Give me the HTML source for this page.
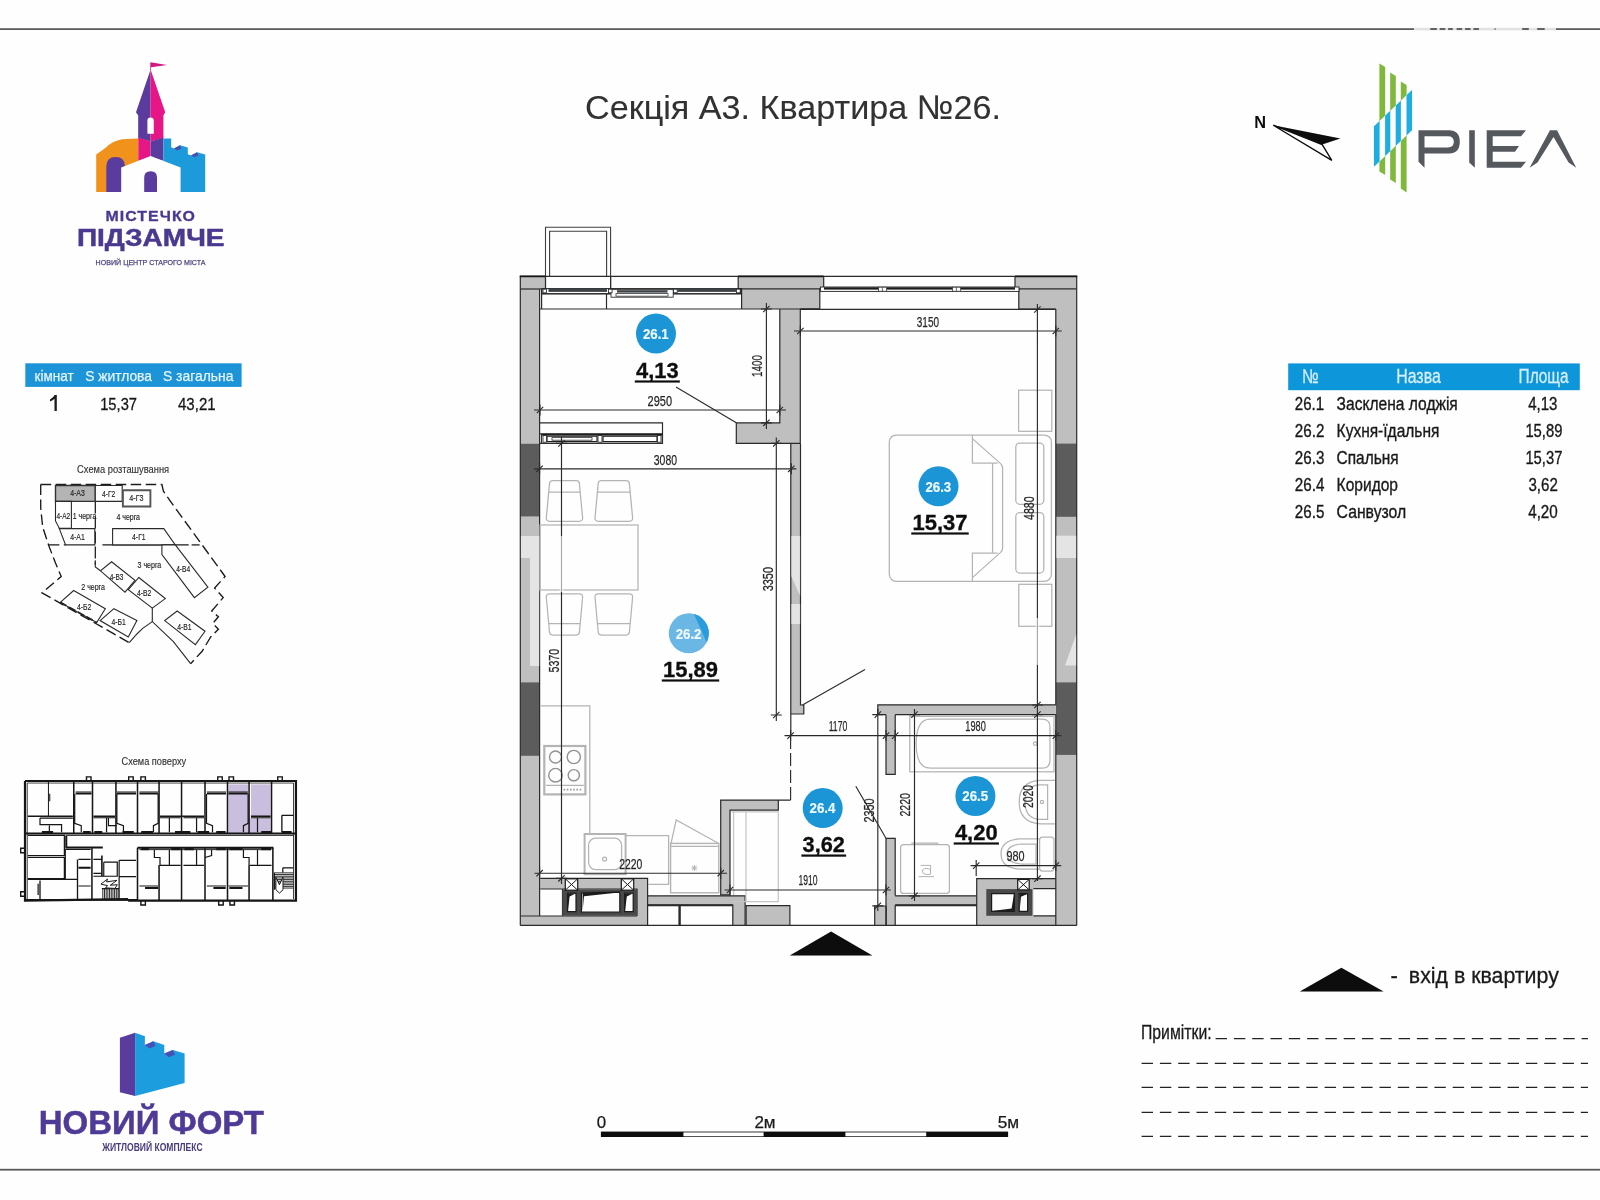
<!DOCTYPE html>
<html lang="uk">
<head>
<meta charset="utf-8">
<title>Секція А3. Квартира №26.</title>
<style>
html,body{margin:0;padding:0;background:#fff;}
body{width:1600px;height:1200px;overflow:hidden;font-family:"Liberation Sans",sans-serif;}
svg{display:block;position:absolute;left:0;top:0;}
text{font-family:"Liberation Sans",sans-serif;}
.b{font-weight:bold;}
.dim{fill:#262626;stroke:#262626;stroke-width:0.25px;font-size:15px;}
.dl{stroke:#2c2c2c;stroke-width:1.15;fill:none;}
.wall{fill:#bfbfbf;}
.dark{fill:#5c5c5c;}
.wl{stroke:#2a2a2a;stroke-width:1.2;fill:none;}
.furn{stroke:#b4b4b4;stroke-width:1.25;fill:none;}
.area{font-weight:bold;font-size:22.4px;fill:#0c0c0c;stroke:#0c0c0c;stroke-width:0.3px;}
.cn{font-weight:bold;font-size:15px;fill:#eef8ff;stroke:#eef8ff;stroke-width:0.2px;}
</style>
</head>
<body>
<svg width="1600" height="1200" viewBox="0 0 1600 1200">
<defs>
<filter id="soft" filterUnits="userSpaceOnUse" x="0" y="0" width="1600" height="1200"><feGaussianBlur stdDeviation="0.42"/></filter>
</defs>
<rect x="0" y="0" width="1600" height="1200" fill="#fefefe"/>

<g id="all" filter="url(#soft)">
<!-- PAGE FRAME LINES -->
<g id="frame">
<rect x="0" y="28.3" width="1600" height="1.6" fill="#4a4a4a"/>
<rect x="1414" y="27.8" width="142" height="2.6" fill="#e2e2e2"/>
<path d="M1430.3 29.1 H1436.9 M1439.7 29.1 H1445.3 M1448.1 29.1 H1452.8 M1456.6 29.1 H1462.2 M1465 29.1 H1470.6 M1473.4 29.1 H1479 M1494.6 29.1 H1495.6 M1522.2 29.1 H1528.8 M1537.2 29.1 H1544.7" stroke="#3a3a3a" stroke-width="1.5" fill="none"/>
<rect x="0" y="1168.8" width="1600" height="1.8" fill="#5a5a5a"/>
</g>

<!-- TITLE -->
<g id="title">
<text x="585" y="119" font-size="34" fill="#303030" stroke="#303030" stroke-width="0.1" textLength="416" lengthAdjust="spacingAndGlyphs">Секція А3. Квартира №26.</text>
</g>

<!-- LOGO: Містечко Підзамче -->
<g id="logo1">
<!-- flag -->
<path d="M150.3 62.2 L167 65 L151 67.2 L151 70 L150.3 70 Z" fill="#d4147f"/>
<!-- spire -->
<path d="M150.6 69.5 L136 112.3 L138.2 115.5 L138.2 138 L150.6 141.5 Z" fill="#5a3a9e"/>
<path d="M150.6 69.5 L165.2 112.3 L163.4 115.5 L163.4 138 L150.6 141.5 Z" fill="#e61587"/>
<!-- window -->
<path d="M147.4 133.8 V121 Q147.4 117.6 150.6 117.6 Q153.8 117.6 153.8 121 V133.8 Z" fill="#fff"/>
<!-- under tower -->
<path d="M138.2 137.5 L150.6 141.5 L150.6 157 L138.2 161 Z" fill="#e61587"/>
<path d="M163.4 137.5 L150.6 141.5 L150.6 157 L163.4 161 Z" fill="#5a3a9e"/>
<!-- orange -->
<path d="M138.2 138.4 L122 139.2 Q112 141 106 147.5 L96.2 154.6 L96.2 192 L138.2 192 Z" fill="#f0921e"/>
<!-- purple arch -->
<path d="M106.3 192 V166.5 Q106.3 157 115.7 157 Q125 157 125 166.5 V192 Z" fill="#5a3a9e"/>
<!-- blue battlements -->
<path d="M163.4 138.4 L171.2 138.4 L171.2 147.3 L174 148.5 L180 145.3 L187.8 147.5 L187.8 154.2 L191 155.4 L197 152.2 L205.2 154.6 L205.2 192 L163.4 192 Z" fill="#1e9ad9"/>
<path d="M174 148.5 L180 145.3 L181.5 148.6 L177.5 150.4 Z" fill="#4a4fb0"/>
<path d="M191 155.4 L197 152.2 L198.5 155.4 L194.5 157.3 Z" fill="#4a4fb0"/>
<!-- white house -->
<path d="M150.6 156 L180.6 167.5 L180.6 192 L121.2 192 L121.2 167.5 Z" fill="#fefefe"/>
<!-- door -->
<path d="M144.2 192 V177.5 Q144.2 171.2 150.6 171.2 Q157 171.2 157 177.5 V192 Z" fill="#5a3a9e"/>
<text x="105.6" y="220.6" class="b" font-size="14" fill="#4b3990" stroke="#4b3990" stroke-width="0.3" letter-spacing="0.9" textLength="90.4" lengthAdjust="spacingAndGlyphs">МІСТЕЧКО</text>
<text x="76.9" y="246.4" class="b" font-size="23.6" fill="#4b3990" stroke="#4b3990" stroke-width="0.5" textLength="147.6" lengthAdjust="spacingAndGlyphs">ПІДЗАМЧЕ</text>
<text x="95.6" y="265.2" font-size="8" fill="#4b4680" stroke="#4b4680" stroke-width="0.25" textLength="110" lengthAdjust="spacingAndGlyphs">НОВИЙ ЦЕНТР СТАРОГО МІСТА</text>
</g>

<!-- COMPASS -->
<g id="compass">
<text x="1254.3" y="128.4" class="b" font-size="16.5" fill="#111" textLength="11.8" lengthAdjust="spacingAndGlyphs">N</text>
<path d="M1273.3 125.2 L1340.4 138.4 L1322.2 144.6 Z" fill="#0a0a0a"/>
<path d="M1273.3 125.2 L1322.2 144.6 L1331.8 160.4 Z" fill="#fff" stroke="#0a0a0a" stroke-width="1.3" stroke-linejoin="miter"/>
</g>

<!-- RIEL LOGO -->
<g id="riel">
<path d="M1379.4 63.4 L1385.2 67 L1385.2 175 L1379.4 171.4 Z" fill="#80b83a"/>
<path d="M1390.2 72.4 L1395.8 76 L1395.8 183 L1390.2 179.4 Z" fill="#80b83a"/>
<path d="M1400.8 81.4 L1406.6 85 L1406.6 192.4 L1400.8 188.6 Z" fill="#80b83a"/>
<path d="M1373.8 126.6 L1412.2 89.8 L1412.2 130 L1373.8 167 Z" fill="#fefefe"/>
<clipPath id="band"><path d="M1373.8 126.6 L1412.2 89.8 L1412.2 130 L1373.8 167 Z"/></clipPath>
<g clip-path="url(#band)" fill="#1eaee0">
<rect x="1373.8" y="80" width="5.8" height="100"/>
<rect x="1385.1" y="80" width="5.2" height="100"/>
<rect x="1395.7" y="80" width="5.2" height="100"/>
<rect x="1406.5" y="80" width="5.8" height="100"/>
</g>
<g fill="#54595d">
<!-- P -->
<path d="M1418.5 130.2 H1449 Q1459.8 130.2 1459.8 141.8 Q1459.8 153.5 1449 153.5 H1424.5 V167.8 L1418.5 161.8 Z M1424.5 136.2 V147.5 H1448 Q1453.8 147.5 1453.8 141.8 Q1453.8 136.2 1448 136.2 Z" fill-rule="evenodd"/>
<!-- I -->
<path d="M1469.2 130.2 H1474.8 V167.8 L1469.2 162.5 Z"/>
<!-- E -->
<path d="M1486.7 130.2 H1526 L1521 136.2 H1492.7 V146 H1519 L1515 151.8 H1492.7 V161.8 H1526 L1521 167.8 H1486.7 Z"/>
<!-- Lambda -->
<path d="M1550 130.2 H1557 L1576.2 167.8 L1568.6 162.4 L1553.5 137 L1537.5 162.4 L1529.6 167.8 Z"/>
</g>
</g>

<!-- LEFT TABLE -->
<g id="lefttable">
<rect x="25.3" y="363.3" width="216.3" height="23.6" fill="#1a94d7"/>
<g fill="#e4f4fd" stroke="#e4f4fd" stroke-width="0.25" font-size="14.4">
<text x="34.6" y="380.6" textLength="39" lengthAdjust="spacingAndGlyphs">кімнат</text>
<text x="85.2" y="380.6" textLength="66.8" lengthAdjust="spacingAndGlyphs">S житлова</text>
<text x="163" y="380.6" textLength="70.4" lengthAdjust="spacingAndGlyphs">S загальна</text>
</g>
<g fill="#1a1a1a" stroke="#1a1a1a" stroke-width="0.3">
<path stroke="none" d="M54.7 395.1 H56.8 V410.9 H54.5 V398.7 Q52.8 400.4 50 401.5 V399.4 Q53.4 397.8 54.7 395.1 Z"/>
<text x="100.2" y="409.5" font-size="17" textLength="36.8" lengthAdjust="spacingAndGlyphs">15,37</text>
<text x="178" y="409.5" font-size="17" textLength="37.6" lengthAdjust="spacingAndGlyphs">43,21</text>
</g>
</g>

<!--SP0-->
<!-- SITE PLAN -->
<g id="siteplan">
<text x="77.1" y="472.6" font-size="11.2" fill="#333" stroke="#333" stroke-width="0.15" textLength="92" lengthAdjust="spacingAndGlyphs">Схема розташування</text>
<path d="M40.7 484.5 L161.9 484.5 L163.4 491.2 L171.4 502.7 L225.1 576.5 L214.6 588 L223.2 597.6 L211.7 611 L218.4 616.8 L212.7 623.5 L218.4 629.2 L210.7 636.9 L202.1 651.3 L190.6 663.7" stroke="#1a1a1a" stroke-width="1.35" fill="none" stroke-dasharray="10.5 4.5"/>
<path d="M40.7 484.5 L40.7 507.5 L42.6 526.7 L48.8 545.8 L55.5 563.1 L61.2 576.5 L42 592.8 L129.3 642.7" stroke="#1a1a1a" stroke-width="1.35" fill="none" stroke-dasharray="10.5 4.5"/>
<path d="M48.8 544.9 L65.6 544.9" stroke="#1a1a1a" stroke-width="1.25" fill="none" stroke-dasharray="10.5 4.5"/>
<path d="M102.4 544.9 L188.7 544.9" stroke="#1a1a1a" stroke-width="1.2" fill="none"/>
<path d="M191.6 544.9 L202.1 544.9" stroke="#1a1a1a" stroke-width="1.25" fill="none" stroke-dasharray="8 4"/>
<path d="M95.3 501.4 L95.3 565" stroke="#1a1a1a" stroke-width="1.25" fill="none" stroke-dasharray="12 3"/>
<path d="M55.5 485.5 L95.3 485.5 L95.3 501.4 L55.5 501.4 Z" stroke="#333" stroke-width="1.4" fill="#b4b4b4"/>
<path d="M95.3 485.5 L122.2 485.5 L122.2 501.4 L95.3 501.4 Z" stroke="#2a2a2a" stroke-width="1.1" fill="#fefefe"/>
<path d="M122.9 490.3 L150.4 490.3 L150.4 506.5 L122.9 506.5 Z" stroke="#555" stroke-width="1.9" fill="#fefefe"/>
<path d="M55.5 501.4 L71.4 501.4 L71.4 528.2 L59.3 528.2 L55.5 520.9 Z" stroke="#2a2a2a" stroke-width="1.1" fill="#fefefe"/>
<path d="M59.3 528.6 L94.8 528.6 L94.8 544.9 L65.6 544.9 Z" stroke="#2a2a2a" stroke-width="1.1" fill="#fefefe"/>
<path d="M112.6 528.6 L163.8 528.6 L175.3 544.9 L112.6 544.9 Z" stroke="#2a2a2a" stroke-width="1.1" fill="#fefefe"/>
<path d="M161.9 544.9 L175.3 544.9 L207.9 587.1 L194.4 597.6 L161.9 554.5 Z" stroke="#2a2a2a" stroke-width="1.1" fill="#fefefe"/>
<path d="M111.6 561.8 L135 580.4 L125 592.2 L100.5 570.8 Z" stroke="#2a2a2a" stroke-width="1.1" fill="#fefefe"/>
<path d="M138.8 577.5 L165.3 598.6 L152.3 608.1 L128.3 589.6 Z" stroke="#2a2a2a" stroke-width="1.1" fill="#fefefe"/>
<path d="M73.7 590.5 L105.3 608.7 L96.7 622.5 L60.3 602.4 Z" stroke="#2a2a2a" stroke-width="1.1" fill="#fefefe"/>
<path d="M113.9 608.7 L136.9 620.6 L128.3 636.9 L100.1 620.6 Z" stroke="#2a2a2a" stroke-width="1.1" fill="#fefefe"/>
<path d="M177.2 611 L205 631.2 L195.4 644.6 L164.7 620.6 Z" stroke="#2a2a2a" stroke-width="1.1" fill="#fefefe"/>
<path d="M95.3 560.2 L95.3 566.9 L100.5 570.8" stroke="#2a2a2a" stroke-width="1.1" fill="none"/>
<path d="M152.3 608.1 L152.3 621.6 L173.4 641.7 L190.6 663.7" stroke="#2a2a2a" stroke-width="1.1" fill="none"/>
<path d="M152.3 621.6 L142.7 628.3 L136.9 634 L129.3 642.7" stroke="#2a2a2a" stroke-width="1.1" fill="none"/>
<path d="M60.3 602.4 L96.7 622.5" stroke="#222" stroke-width="1.8" fill="none" stroke-dasharray="7 3"/>
<text x="70.2" y="496.4" font-size="8.8" fill="#222" stroke="#222" stroke-width="0.15" textLength="14.6" lengthAdjust="spacingAndGlyphs">4-А3</text>
<text x="102" y="497.3" font-size="8.8" fill="#222" stroke="#222" stroke-width="0.15" textLength="13.3" lengthAdjust="spacingAndGlyphs">4-Г2</text>
<text x="129.3" y="501.4" font-size="8.8" fill="#222" stroke="#222" stroke-width="0.15" textLength="14.3" lengthAdjust="spacingAndGlyphs">4-Г3</text>
<text x="56.4" y="518.6" font-size="8.8" fill="#222" stroke="#222" stroke-width="0.15" textLength="13.8" lengthAdjust="spacingAndGlyphs">4-А2</text>
<text x="72.7" y="518.6" font-size="8.8" fill="#222" stroke="#222" stroke-width="0.15" textLength="23.6" lengthAdjust="spacingAndGlyphs">1 черга</text>
<text x="116.4" y="520.4" font-size="8.8" fill="#222" stroke="#222" stroke-width="0.15" textLength="23.6" lengthAdjust="spacingAndGlyphs">4 черга</text>
<text x="70.2" y="539.7" font-size="8.8" fill="#222" stroke="#222" stroke-width="0.15" textLength="14.6" lengthAdjust="spacingAndGlyphs">4-А1</text>
<text x="132.1" y="539.7" font-size="8.8" fill="#222" stroke="#222" stroke-width="0.15" textLength="13.5" lengthAdjust="spacingAndGlyphs">4-Г1</text>
<text x="137.5" y="567.9" font-size="8.8" fill="#222" stroke="#222" stroke-width="0.15" textLength="23.8" lengthAdjust="spacingAndGlyphs">3 черга</text>
<text x="176.2" y="571.7" font-size="8.8" fill="#222" stroke="#222" stroke-width="0.15" textLength="14" lengthAdjust="spacingAndGlyphs">4-В4</text>
<text x="109.7" y="579.6" font-size="8.8" fill="#222" stroke="#222" stroke-width="0.15" textLength="13.8" lengthAdjust="spacingAndGlyphs">4-В3</text>
<text x="136.9" y="595.7" font-size="8.8" fill="#222" stroke="#222" stroke-width="0.15" textLength="14.4" lengthAdjust="spacingAndGlyphs">4-В2</text>
<text x="81.3" y="590.3" font-size="8.8" fill="#222" stroke="#222" stroke-width="0.15" textLength="23.6" lengthAdjust="spacingAndGlyphs">2 черга</text>
<text x="76.9" y="609.7" font-size="8.8" fill="#222" stroke="#222" stroke-width="0.15" textLength="14.4" lengthAdjust="spacingAndGlyphs">4-Б2</text>
<text x="111.6" y="625" font-size="8.8" fill="#222" stroke="#222" stroke-width="0.15" textLength="14.2" lengthAdjust="spacingAndGlyphs">4-Б1</text>
<text x="177.2" y="630.2" font-size="8.8" fill="#222" stroke="#222" stroke-width="0.15" textLength="14.4" lengthAdjust="spacingAndGlyphs">4-В1</text>
</g>
<!--SP1-->
<!--FS0-->
<!-- FLOOR SCHEME -->
<g id="floorscheme">
<text x="121.56" y="764.88" font-size="11.2" fill="#333" stroke="#333" stroke-width="0.15" textLength="64.6" lengthAdjust="spacingAndGlyphs">Схема поверху</text>
<rect x="228.44" y="784.38" width="19.68" height="48.74" fill="#c9bedd"/>
<rect x="250.94" y="784.38" width="19.68" height="31.87" fill="#c9bedd"/>
<rect x="243.44" y="818.12" width="27.18" height="15" fill="#c9bedd"/>
<path d="M25 781 L295.94 781 L295.94 900.62 L128.12 900.62 M25 781 L25 900.62 L128.12 899.12 M83.12 832.19 L90.62 832.19 M94.38 832.19 L102.25 832.19 M122.5 832.19 L133.75 832.19 M141.25 832.19 L152.88 832.19 M175 832.19 L190.38 832.19 M197.5 832.19 L209.12 832.19 M216.25 832.19 L225.62 832.19 M261.25 832.19 L271 832.19 M281.88 832.19 L291.62 832.19 M41.88 832.19 L53.12 832.19" stroke="#141414" stroke-width="2.2" fill="none"/>
<path d="M25 899.88 L137.5 899.88 M101.88 855.62 L101.88 876.25" stroke="#141414" stroke-width="1.6" fill="none"/>
<path d="M86.5 780.62 L86.5 776.88 L91 776.88 L91 780.62 M128.69 780.62 L128.69 776.88 L133.19 776.88 L133.19 780.62 M140.88 780.62 L140.88 776.88 L145.38 776.88 L145.38 780.62 M217.75 780.62 L217.75 776.88 L222.25 776.88 L222.25 780.62 M229 780.62 L229 776.88 L233.5 776.88 L233.5 780.62 M277.75 780.62 L277.75 776.88 L282.25 776.88 L282.25 780.62 M140.88 900.62 L140.88 904.94 L145.38 904.94 L145.38 900.62 M218.69 900.62 L218.69 904.94 L223.19 904.94 L223.19 900.62 M229.94 900.62 L229.94 904.94 L234.44 904.94 L234.44 900.62 M25 848.31 L20.69 848.31 L20.69 852.81 L25 852.81 M25 891.81 L20.69 891.81 L20.69 896.31 L25 896.31" stroke="#141414" stroke-width="1.4" fill="none"/>
<path d="M73.75 781.56 L73.75 833.12 M92.5 781.56 L92.5 833.12 M115.94 781.56 L115.94 833.12 M137.5 781.56 L137.5 833.12 M159.06 781.56 L159.06 833.12 M181.56 781.56 L181.56 833.12 M205 781.56 L205 833.12 M227.5 781.56 L227.5 833.12 M249.06 781.56 L249.06 833.12 M271.56 781.56 L271.56 833.12 M137.5 847.75 L137.5 899.88 M181.56 847.75 L181.56 899.88 M205 847.75 L205 899.88 M227.5 847.75 L227.5 899.88 M272.88 847.75 L272.88 899.88 M159.06 865 L159.06 899.88 M249.06 865 L249.06 899.88 M91.94 848.12 L91.94 899.69" stroke="#141414" stroke-width="1.5" fill="none"/>
<path d="M48.44 781.56 L48.44 816.25 M49.75 793.75 L49.75 801.25" stroke="#141414" stroke-width="1" fill="none"/>
<path d="M27.25 783.06 L293.5 783.06 M27.25 783.06 L27.25 899.12 M293.5 783.06 L293.5 899.12 M75.62 791.88 L91.56 791.88 M116.88 791.88 L136 791.88 M139.38 791.88 L158.12 791.88 M206.88 791.88 L226 791.88 M228.44 791.88 L247.75 791.88" stroke="#141414" stroke-width="0.8" fill="none"/>
<path d="M25 833.5 L295.94 833.5" stroke="#141414" stroke-width="1.8" fill="none"/>
<path d="M66.25 835.38 L293.5 835.38 M139.38 849.62 L271.56 849.62 M102.81 889 L102.81 899.5 M104.5 889 L104.5 899.5 M106.19 889 L106.19 899.5 M107.88 889 L107.88 899.5 M109.56 889 L109.56 899.5 M111.25 889 L111.25 899.5 M112.94 889 L112.94 899.5 M114.62 889 L114.62 899.5 M116.31 889 L116.31 899.5 M118 889 L118 899.5 M274.75 872.88 L293.12 872.88 M274.75 874.56 L293.12 874.56 M274.75 876.25 L293.12 876.25 M274.75 877.94 L293.12 877.94 M274.75 879.62 L293.12 879.62 M274.75 881.31 L293.12 881.31 M274.75 883 L293.12 883 M274.75 884.69 L293.12 884.69 M274.75 886.38 L293.12 886.38 M274.75 888.06 L293.12 888.06" stroke="#141414" stroke-width="0.9" fill="none"/>
<path d="M27.81 816.25 L72.81 816.25 M93.44 816.25 L115 816.25 M160 816.25 L204.06 816.25 M250.94 816.25 L270.62 816.25 M281.88 815.31 L293.5 815.31 M281.88 815.31 L281.88 832.19 M160 865.38 L180.62 865.38 M183.44 865.38 L204.06 865.38 M250 865.38 L271.56 865.38 M27.81 879.44 L77.5 879.44 M40 880.38 L40 899.69 M77.5 859.38 L77.5 899.69" stroke="#141414" stroke-width="1.3" fill="none"/>
<path d="M75.62 793.38 L91.56 793.38 M116.88 793.38 L136 793.38 M139.38 793.38 L158.12 793.38 M206.88 793.38 L226 793.38 M228.44 793.38 L247.75 793.38 M137.5 847.75 L273.44 847.75 M145 887.88 L158.12 887.88 M213.44 887.88 L225.62 887.88 M229.38 887.88 L242.5 887.88 M141.25 849.25 L148.75 849.25 M171.25 849.25 L180.62 849.25 M184.38 849.25 L193.75 849.25 M216.25 849.25 L225.62 849.25 M229.38 849.25 L242.5 849.25 M261.25 849.25 L271 849.25 M66.25 835.38 L66.25 847.56 L102.81 847.56 M78.44 867.81 L90.62 867.81" stroke="#141414" stroke-width="2" fill="none"/>
<path d="M74.69 794.12 L74.69 823.38 L81.25 825.62 L81.25 832.19 M116.88 794.12 L116.88 823.38 L123.44 825.62 L123.44 832.19 M158.12 794.12 L158.12 823.38 L153.44 825.62 L153.44 832.19 M206.5 794.12 L206.5 823.38 L212.5 825.62 L212.5 832.19 M248.12 794.12 L248.12 823.38 L243.44 825.62 L243.44 832.19 M40 818.12 L40 824.69 L61.56 824.69 L61.56 832.19 M40 818.12 L72.81 818.12 M49.38 825.62 L49.38 833.12 M106.56 817.19 L106.56 832.19 M108.44 817.19 L108.44 825.62 L116.88 825.62 M169.38 817.19 L169.38 832.19 M196.56 817.19 L196.56 832.19 M257.5 817.19 L257.5 832.19 M93.44 817.75 L115 817.75 M160 817.75 L180.62 817.75 M183.44 817.75 L204.06 817.75 M250.94 817.75 L270.62 817.75 M169.38 850 L169.38 865 M196.56 850 L196.56 865 M257.5 850 L257.5 865 M154.38 850 L154.38 857.5 L160 857.5 L160 865 M205 857.5 L211.56 855.62 L211.56 850 M243.44 850 L243.44 857.5 L249.06 857.5 L249.06 865 M139.38 886 L158.12 886 M206.88 886 L226 886 M228.44 886 L248.12 886 M27.81 835.38 L64.38 835.38 L64.38 855.62 L27.81 855.62 M27.81 857.5 L64.38 857.5 L64.38 878.5 L27.81 878.5 M65.31 849.44 L90.62 849.44 M65.31 849.44 L65.31 879.06 M78.44 859.38 L90.62 859.38 M78.44 886 L90.62 886 M93.44 859.38 L101.88 859.38 M93.44 873.44 L101.88 873.44 M103.75 862.19 L117.25 862.19 L117.25 876.25 L103.75 876.25 L103.75 862.19 M119.12 860.31 L136 860.31 M119.12 860.31 L119.12 899.69 M119.12 876.62 L136 876.62 M93.44 876.25 L117.25 876.25 M38.12 883.75 L38.12 895 M101.88 888.62 L119.69 888.62 M282.81 867.81 L293.12 867.81 M282.81 867.81 L282.81 872.5 M274.38 872.5 L274.38 889.75" stroke="#141414" stroke-width="1.2" fill="none"/>
<path d="M100.94 884.12 L107.5 879.06 L106.56 881.88 L116.88 880.38 L110.31 885.25 L117.25 884.69 L115 888.44 L105.62 887.88 L107.5 885.62 Z" fill="#fefefe" stroke="#1a1a1a" stroke-width="1"/>
<path d="M275.88 877.19 L279.44 884.69 L283 877.19 L283 889.75 L279.44 893.12 L275.88 889.75 Z" fill="#fefefe" stroke="#1a1a1a" stroke-width="1"/>
</g>
<!--FS1-->
<!--PL0-->
<!-- MAIN PLAN -->
<g id="plan">
<g stroke="#3c3c3c" stroke-width="1.1" fill="none">
<path d="M545.5 289 V227.3 H610.6 V289"/>
<path d="M549.6 276.2 V231.2 H606.6 V276.2"/>
</g>
<g class="wall">
<rect x="520.5" y="276.6" width="25" height="12.4"/>
<rect x="520.5" y="288.5" width="19.1" height="636.9"/>
<rect x="738.2" y="276.6" width="85.5" height="12.2"/>
<rect x="741.6" y="288.8" width="78.2" height="20.2"/>
<rect x="779.8" y="308.8" width="20.2" height="134.6"/>
<rect x="736.3" y="422.8" width="63.7" height="20.6"/>
<rect x="1015" y="276.6" width="61.6" height="12.2"/>
<rect x="1018.8" y="288.8" width="57.8" height="20.2"/>
<rect x="1055.8" y="308.8" width="20.8" height="616.6"/>
<rect x="790.8" y="443.2" width="9.7" height="262.3"/>
<rect x="790.8" y="705" width="13" height="9"/>
<rect x="877.8" y="704.9" width="178.1" height="9.7"/>
<rect x="886" y="714.4" width="9.2" height="59.9"/>
<rect x="886" y="838.3" width="9.2" height="57.5"/>
<rect x="886" y="895.6" width="90.9" height="9.7"/>
<rect x="874.7" y="906" width="11.5" height="19.4"/>
<rect x="886" y="905" width="9.2" height="20.4"/>
<rect x="976.7" y="878.7" width="79.2" height="46.7"/>
<rect x="520.5" y="916" width="127.1" height="9.4"/>
<rect x="540.3" y="878.3" width="107.3" height="10.7"/>
<rect x="637" y="878.3" width="10.6" height="47.1"/>
<rect x="647.6" y="895.8" width="97.5" height="9.4"/>
<rect x="732.8" y="895.8" width="12.3" height="29.6"/>
<rect x="746.1" y="905.6" width="43.8" height="19.8"/>
<rect x="720.7" y="800.1" width="57.6" height="10.1"/>
<rect x="720.7" y="800.1" width="9.3" height="94.7"/>
</g>
<g class="dark">
<rect x="520.5" y="443.8" width="19.1" height="72.6"/>
<rect x="520.5" y="682.4" width="19.1" height="73.4"/>
<rect x="1056" y="443.6" width="20.6" height="73.2"/>
<rect x="1056" y="682.4" width="20.6" height="72.5"/>
</g>
<rect x="1033.4" y="888.6" width="22.5" height="27.2" fill="#fefefe"/>
<rect x="540.3" y="889.2" width="22.2" height="26.6" fill="#fefefe"/>
<g class="wl">
<path d="M520.3 925.4 V276.3 H1076.7 V925.4"/>
<path d="M520.3 925.4 H1076.7"/>
<path d="M519.8 276.4 H545.5 M738.2 276.4 H823.7 M1015 276.4 H1077.2" stroke-width="1.8" stroke="#161616"/>
<path d="M520.5 289 H545.5"/>
<path d="M539.6 289 V916"/>
<path d="M545.5 276.3 V289 M610.6 276.3 V289"/>
<path d="M738.2 276.6 V288.8 H741.6 V309"/>
<path d="M823.7 276.6 V288.8 H819.8 V309"/>
<path d="M738.2 288.8 H823.7"/>
<path d="M541.6 289 V309 M541.6 294 H741 M606.5 294 V309 M539.6 309 H779.8 M741.6 309 H819.8"/>
<path d="M779.8 309 V422.8 H736.3 V443.4 H800.3"/>
<path d="M800.3 309 V443.4"/>
<path d="M819.8 309 H800.3"/>
<path d="M539.6 422.8 H662.5 V443.4 H539.6"/>
<path d="M539.6 433.8 H662.5"/>
<path d="M790.8 443.4 V736 M790.8 714 H803.8 V705 H800.5 V443.4"/>
<path d="M1015 276.6 V288.8 H1018.8 V309 H1055.8"/>
<path d="M1015 288.8 H1076.6"/>
<path d="M1055.8 309 V704.9"/>
<path d="M800.4 309.4 H1055.8"/>
<path d="M877.8 714.6 V704.9 H1055.8"/>
<path d="M877.8 714.6 H886 M895.2 714.6 H1055.8"/>
<path d="M886 714.6 V774.3 H895.2 V714.6"/>
<path d="M886 925.4 V838.3 H895.2 V895.8"/>
<path d="M895.2 895.8 H976.7"/>
<path d="M895.2 905.3 H976.7 M895.2 905.3 V925.4 M886.2 906 V925.4 M874.7 906 H886.2 M874.7 906 V925.4"/>
<path d="M976.7 925.4 V878.7 H1055.8"/>
<path d="M1055.8 714.6 V925.4"/>
<path d="M1033.4 888.6 H1055.8 M1033.4 915.8 H1055.8"/>
<path d="M520.5 916 H637"/>
<path d="M540.3 878.3 H647.6 V925.4"/>
<path d="M540.3 889 H637 V916"/>
<path d="M562.5 889 V916"/>
<path d="M647.6 895.8 H745.1 V925.4"/>
<path d="M647.6 905.2 H732.8 V925.4"/>
<path d="M679.6 905.2 V925.4" stroke-width="2.4"/>
<path d="M746.1 925.4 V905.6 H789.9 V925.4"/>
<path d="M647.6 905.2 H732.8" stroke-width="2"/>
<path d="M895.2 905.3 H976.7" stroke-width="2"/>
<path d="M730 894.8 H720.7 V800.1 H790.6"/>
<path d="M730 894.8 V810.2 H778.3 V800.1"/>
</g>
<g id="windows">
<rect x="542" y="288.6" width="198.6" height="5" fill="#fefefe" stroke="#222" stroke-width="1"/>
<rect x="548.5" y="288.9" width="58.5" height="3" fill="#3d4347"/>
<rect x="677.4" y="288.9" width="58.6" height="3" fill="#3d4347"/>
<rect x="611" y="289.6" width="62.2" height="7.6" fill="#fefefe" stroke="#333" stroke-width="0.9"/>
<rect x="617" y="290.2" width="50.5" height="2.4" fill="#3d4347"/>
<rect x="616" y="293.6" width="52" height="2.6" fill="none" stroke="#333" stroke-width="0.8"/>
<rect x="543" y="289.2" width="3.6" height="3.6" fill="#fefefe" stroke="#222" stroke-width="0.8"/>
<rect x="608.5" y="289.2" width="3.6" height="3.6" fill="#fefefe" stroke="#222" stroke-width="0.8"/>
<rect x="673.6" y="289.2" width="3.6" height="3.6" fill="#fefefe" stroke="#222" stroke-width="0.8"/>
<rect x="736.6" y="289.2" width="3.6" height="3.6" fill="#fefefe" stroke="#222" stroke-width="0.8"/>
<rect x="820.4" y="287" width="198.6" height="4.4" fill="#fefefe" stroke="#222" stroke-width="0.9"/>
<rect x="824" y="287.3" width="191" height="2.3" fill="#1c1c1c"/>
<rect x="878.6" y="287.2" width="8" height="4" fill="#fefefe" stroke="#333" stroke-width="0.7"/>
<rect x="952.6" y="287.2" width="8" height="4" fill="#fefefe" stroke="#333" stroke-width="0.7"/>
<path d="M882.4 287.2 V291.2" stroke="#333" stroke-width="0.7"/>
<path d="M956.4 287.2 V291.2" stroke="#333" stroke-width="0.7"/>
<rect x="541.6" y="434.6" width="120.6" height="8.6" fill="#fefefe" stroke="#222" stroke-width="1"/>
<rect x="547" y="436.2" width="50" height="5.4" fill="#fefefe" stroke="#222" stroke-width="1.2"/>
<rect x="552" y="437.6" width="40" height="2.6" fill="none" stroke="#333" stroke-width="0.8"/>
<rect x="603" y="436.2" width="54" height="5.4" fill="#fefefe" stroke="#222" stroke-width="1.2"/>
<rect x="543" y="435.6" width="3.4" height="6.6" fill="#fefefe" stroke="#222" stroke-width="0.8"/>
<rect x="598" y="435.6" width="4" height="6.6" fill="#fefefe" stroke="#222" stroke-width="0.8"/>
<rect x="657.6" y="435.6" width="3.4" height="6.6" fill="#fefefe" stroke="#222" stroke-width="0.8"/>
<path d="M541.6 434.6 H662.2" stroke="#1c1c1c" stroke-width="1.8"/>
</g>
<g id="shafts">
<rect x="562.5" y="889.3" width="74.6" height="26.5" fill="#4a4a4a"/>
<path d="M567.5 893.2 H576 V911.6 H567.5 Z M581.4 892.8 L619.8 892.2 V912.2 H581.4 Z M624.6 893.2 H633.2 V911.6 H624.6 Z" fill="#fefefe" stroke="#1a1a1a" stroke-width="1.2"/>
<path d="M582.6 893 L619 892.4 L584 896.2 L582.6 911 Z" fill="#1a1a1a"/>
<path d="M568 893.6 L575.6 893.6 L569.6 896.6 L568 911 Z M625 893.6 L632.8 893.6 L626.8 896.6 L625 911 Z" fill="#1a1a1a"/>
<rect x="565.3" y="878.8" width="12.4" height="11.4" fill="#fefefe" stroke="#1a1a1a" stroke-width="1.2"/>
<path d="M565.3 878.8 L577.7 890.2 M577.7 878.8 L565.3 890.2" stroke="#1a1a1a" stroke-width="1"/>
<rect x="621.3" y="878.8" width="12.4" height="11.4" fill="#fefefe" stroke="#1a1a1a" stroke-width="1.2"/>
<path d="M621.3 878.8 L633.7 890.2 M633.7 878.8 L621.3 890.2" stroke="#1a1a1a" stroke-width="1"/>
<rect x="986.3" y="889.1" width="46.1" height="26.7" fill="#4a4a4a"/>
<path d="M991.6 893.6 H1014.4 V911.4 H991.6 Z M1019.2 893.6 H1027.6 V911.4 H1019.2 Z" fill="#fefefe" stroke="#1a1a1a" stroke-width="1.2"/>
<path d="M1014 893.8 L1014 911 L992 911 L1011.6 908.6 Z M1019.6 894 L1027.2 894 L1021 896.8 L1019.6 911 Z" fill="#1a1a1a"/>
<rect x="1017.7" y="879.4" width="11.5" height="10.5" fill="#fefefe" stroke="#1a1a1a" stroke-width="1.2"/>
<path d="M1017.7 879.4 L1029.2 889.9 M1029.2 879.4 L1017.7 889.9" stroke="#1a1a1a" stroke-width="1"/>
</g>
<g id="furniture" class="furn">
<rect x="1018.6" y="390.2" width="33.2" height="41.1"/>
<rect x="1018.8" y="584.3" width="33" height="42"/>
<rect x="889.3" y="435" width="162.1" height="146.3" rx="7"/>
<rect x="1015.8" y="443" width="28" height="61.3" rx="4"/>
<rect x="1015.8" y="512.5" width="28" height="60.5" rx="4"/>
<path d="M972.4 435 V463 H992.6 V553 H972.4 V581.3 M972.4 438.6 L1000.6 463.6 Q1002.6 465.6 1002.6 468 V548 Q1002.6 550.4 1000.6 552.4 L972.4 577.6 M992.6 463 H997.6 M992.6 553 H997.6"/>
<path d="M549.5 483.6 Q549.7 480.6 552.7 480.6 H576.2 Q579.2 480.6 579.4 483.6 L582.6 517.8 Q582.8 521.3 579.2 521.3 H549.7 Q546.1 521.3 546.3 517.8 Z"/>
<path d="M548.7 492 H580.2"/>
<path d="M598.2 483.6 Q598.4 480.6 601.4 480.6 H626.2 Q629.2 480.6 629.4 483.6 L632.6 517.8 Q632.8 521.3 629.2 521.3 H598.4 Q594.8 521.3 595 517.8 Z"/>
<path d="M597.4 492 H630.2"/>
<path d="M546.3 597.3 Q546.1 593.8 549.7 593.8 H579.2 Q582.8 593.8 582.6 597.3 L579.4 632 Q579.2 635 576.2 635 H552.7 Q549.7 635 549.5 632 Z"/>
<path d="M548.7 623.6 H580.2"/>
<path d="M595 597.3 Q594.8 593.8 598.4 593.8 H629.2 Q632.8 593.8 632.6 597.3 L629.4 632 Q629.2 635 626.2 635 H601.4 Q598.4 635 598.2 632 Z"/>
<path d="M597.4 623.6 H630.2"/>
<rect x="540" y="525" width="98" height="65"/>
<path d="M540.3 705.8 H589.8 V834 H625.6 M625.6 835.6 H668.6 V884.4 H648 M589.8 834 H584.6"/>
<rect x="544.3" y="746" width="41.1" height="48.4" stroke-width="2.2"/>
<path d="M546 785.4 H583.8"/>
<circle cx="555.5" cy="757" r="6" stroke="#929292" stroke-width="1.4"/>
<circle cx="573.8" cy="757" r="6.6" stroke="#929292" stroke-width="1.4"/>
<circle cx="555.5" cy="775.2" r="6.8" stroke="#929292" stroke-width="1.4"/>
<circle cx="573.8" cy="775.2" r="5.6" stroke="#929292" stroke-width="1.4"/>
<path d="M563.6 789.6 H581.6" stroke="#999" stroke-width="1.6" stroke-dasharray="1.6 1.6"/>
<rect x="584.6" y="834" width="41" height="40.2" stroke-width="2"/>
<rect x="588.6" y="838.2" width="33" height="31.4" rx="7"/>
<circle cx="604.6" cy="859" r="2"/>
<rect x="670.6" y="843.4" width="48.2" height="49.4" stroke-width="1.4"/>
<path d="M670.6 846.4 H718.8"/>
<path d="M671 843.4 L676.2 820 L718.4 843.2"/>
<path d="M691.4 868 H697.4 M694.4 865 V871 M692.2 865.8 L696.6 870.2 M696.6 865.8 L692.2 870.2" stroke="#aaa" stroke-width="0.9"/>
<path d="M731.6 811.8 H778.3 V901.6 H731.6 M746 811.8 V901.6 M733.6 811.8 V895" stroke="#c6c6c6"/>
<rect x="909.8" y="716.4" width="144.2" height="55.4"/>
<path d="M930.4 719.2 H1042 Q1050 719.2 1050 727.2 V760.2 Q1050 768.2 1042 768.2 H930.4 Q916.2 768.2 916.2 743.7 Q916.2 719.2 930.4 719.2 Z"/>
<circle cx="1035.2" cy="743.6" r="1.8"/>
<path d="M1055 780.4 H1040 Q1019.2 781.6 1019.2 802 Q1019.2 822.4 1040 823.8 H1055"/>
<path d="M1047.6 784.8 H1039 Q1025 786 1025 802 Q1025 818 1039 819.4 H1047.6 Z"/>
<circle cx="1042" cy="802" r="1.6"/>
<rect x="1039.6" y="837" width="14.4" height="34" rx="3"/>
<path d="M1039.6 838.8 H1020 Q1001 840 1001 854 Q1001 868 1020 869.2 H1039.6"/>
<path d="M1036 844 H1021 Q1007 845.2 1007 854 Q1007 862.8 1021 864 H1036 Z"/>
<rect x="900.6" y="844.6" width="48.8" height="48.8" rx="3"/>
<path d="M912 844.6 V843 H937.6 V844.6"/>
<path d="M920.6 865.4 H930.6 V874 M930.6 870 Q926 866.6 922.6 870 Q921.6 873.6 926 874.4 H930.6 M918.6 876.6 H934" stroke="#aaa" stroke-width="0.9"/>
</g>
<g id="dims">
<path d="M534 410 H786 M540 404.5 V415.5 M779.8 404.5 V415.5 M766.4 303 V429 M760.9 309 H771.9 M760.9 422.8 H771.9 M794 331 H1061.7 M800.4 325.5 V336.5 M1055.8 325.5 V336.5 M1037.4 304 V881 M1031.9 309.5 H1042.9 M1031.9 705 H1042.9 M1031.9 714.6 H1042.9 M1031.9 878.7 H1042.9 M533.8 468.8 H796.3 M539.6 463.3 V474.3 M791.3 463.3 V474.3 M561.5 437 V884 M556 443.4 H567 M556 878.3 H567 M776.3 437.5 V721 M770.8 443.4 H781.8 M770.8 715 H781.8 M534.5 873.2 H727 M539.6 867.7 V878.7 M720.7 867.7 V878.7 M784.5 735.6 H1061.2 M790.6 730.1 V741.1 M886 730.1 V741.1 M895.2 730.1 V741.1 M1055.8 730.1 V741.1 M724.6 890 H890.8 M730 884.5 V895.5 M886 884.5 V895.5 M914.5 709 V901 M909 714.6 H920 M909 895.8 H920 M877.8 709 V911 M872.3 714.6 H883.3 M872.3 905.8 H883.3 M970.6 865.6 H1061.2 M976.2 860.1 V871.1 M1055.8 860.1 V871.1 M976.2 860 V876" class="dl"/>
<path d="M536.8 413.2 L543.2 406.8 M776.6 413.2 L783 406.8 M763.2 312.2 L769.6 305.8 M763.2 426 L769.6 419.6 M797.2 334.2 L803.6 327.8 M1052.6 334.2 L1059 327.8 M1034.2 312.7 L1040.6 306.3 M1034.2 708.2 L1040.6 701.8 M1034.2 717.8 L1040.6 711.4 M1034.2 881.9 L1040.6 875.5 M536.4 472 L542.8 465.6 M788.1 472 L794.5 465.6 M558.3 446.6 L564.7 440.2 M558.3 881.5 L564.7 875.1 M773.1 446.6 L779.5 440.2 M773.1 718.2 L779.5 711.8 M536.4 876.4 L542.8 870 M717.5 876.4 L723.9 870 M787.4 738.8 L793.8 732.4 M882.8 738.8 L889.2 732.4 M892 738.8 L898.4 732.4 M1052.6 738.8 L1059 732.4 M726.8 893.2 L733.2 886.8 M882.8 893.2 L889.2 886.8 M911.3 717.8 L917.7 711.4 M911.3 899 L917.7 892.6 M874.6 717.8 L881 711.4 M874.6 909 L881 902.6 M973 868.8 L979.4 862.4 M1052.6 868.8 L1059 862.4" class="dl" stroke-width="1.7"/>
<path d="M676 387 L736.3 422.8 M802.5 705 L865 669.5 M855.8 786.3 L886 838.3" class="dl" stroke-width="1.1"/>
<path d="M790.6 736 V800" class="dl" stroke-dasharray="13 4" stroke-width="1.2"/>
<text x="647.6" y="405.6" class="dim" textLength="24.4" lengthAdjust="spacingAndGlyphs">2950</text>
<text x="916.8" y="327" class="dim" textLength="22.2" lengthAdjust="spacingAndGlyphs">3150</text>
<text x="653.8" y="465" class="dim" textLength="23.2" lengthAdjust="spacingAndGlyphs">3080</text>
<text x="619.2" y="868.5" class="dim" textLength="23.1" lengthAdjust="spacingAndGlyphs">2220</text>
<text x="828.7" y="730.8" class="dim" textLength="18.6" lengthAdjust="spacingAndGlyphs">1170</text>
<text x="965.3" y="730.8" class="dim" textLength="20.5" lengthAdjust="spacingAndGlyphs">1980</text>
<text x="798.5" y="885" class="dim" textLength="19.1" lengthAdjust="spacingAndGlyphs">1910</text>
<text x="1006.4" y="861.3" class="dim" textLength="18.1" lengthAdjust="spacingAndGlyphs">980</text>
<text transform="translate(762 377) rotate(-90)" class="dim" textLength="22" lengthAdjust="spacingAndGlyphs">1400</text>
<text transform="translate(1033.8 520) rotate(-90)" class="dim" textLength="23.7" lengthAdjust="spacingAndGlyphs">4880</text>
<text transform="translate(558.8 672.5) rotate(-90)" class="dim" textLength="23.7" lengthAdjust="spacingAndGlyphs">5370</text>
<text transform="translate(772.5 591.3) rotate(-90)" class="dim" textLength="24.3" lengthAdjust="spacingAndGlyphs">3350</text>
<text transform="translate(910.2 816.6) rotate(-90)" class="dim" textLength="23.5" lengthAdjust="spacingAndGlyphs">2220</text>
<text transform="translate(874 822.6) rotate(-90)" class="dim" textLength="24.2" lengthAdjust="spacingAndGlyphs">2350</text>
<text transform="translate(1033 808.1) rotate(-90)" class="dim" textLength="23" lengthAdjust="spacingAndGlyphs">2020</text>
</g>
<g id="rooms">
<circle cx="656" cy="333.6" r="20" fill="#1b95d7"/>
<text x="642.9" y="338.9" class="cn" textLength="25.8" lengthAdjust="spacingAndGlyphs">26.1</text>
<circle cx="938.5" cy="486.3" r="20" fill="#1b95d7"/>
<text x="925.4" y="491.6" class="cn" textLength="25.8" lengthAdjust="spacingAndGlyphs">26.3</text>
<circle cx="822.7" cy="808.1" r="20" fill="#1b95d7"/>
<text x="809.6" y="813.4" class="cn" textLength="25.8" lengthAdjust="spacingAndGlyphs">26.4</text>
<circle cx="975.4" cy="796" r="20" fill="#1b95d7"/>
<text x="962.3" y="801.3" class="cn" textLength="25.8" lengthAdjust="spacingAndGlyphs">26.5</text>
<circle cx="688.8" cy="633.3" r="20" fill="#6ab6e5"/>
<path d="M694 614 A20 20 0 0 1 706.6 642.6 Z" fill="#2c9bdb"/>
<text x="675.7" y="638.6" class="cn" textLength="25.8" lengthAdjust="spacingAndGlyphs" fill="#f4faff">26.2</text>
<text x="636" y="378" class="area" textLength="42.6" lengthAdjust="spacingAndGlyphs">4,13</text>
<rect x="634.8" y="380.4" width="45" height="2.2" fill="#0c0c0c"/>
<text x="663" y="677" class="area" textLength="55" lengthAdjust="spacingAndGlyphs">15,89</text>
<rect x="661.8" y="679.4" width="57.4" height="2.2" fill="#0c0c0c"/>
<text x="912.5" y="530" class="area" textLength="55" lengthAdjust="spacingAndGlyphs">15,37</text>
<rect x="911.3" y="532.4" width="57.4" height="2.2" fill="#0c0c0c"/>
<text x="802.6" y="852.1" class="area" textLength="42.3" lengthAdjust="spacingAndGlyphs">3,62</text>
<rect x="801.4" y="854.5" width="44.7" height="2.2" fill="#0c0c0c"/>
<text x="954.9" y="840" class="area" textLength="42.8" lengthAdjust="spacingAndGlyphs">4,20</text>
<rect x="953.7" y="842.4" width="45.2" height="2.2" fill="#0c0c0c"/>
</g>
<path d="M831.1 931.6 L872.4 955.6 H789.8 Z" fill="#0a0a0a"/>
<g id="wm" fill="#fff" opacity="0.58">
<rect x="520.9" y="536" width="18.4" height="22"/><rect x="530" y="558" width="9.3" height="108"/>
<rect x="791.2" y="536" width="9" height="40"/><rect x="791.2" y="604" width="9" height="20"/><path d="M791.2 576 L800.2 596 V576 Z"/>
<rect x="1056.2" y="535.7" width="20" height="22.3"/><path d="M1076.2 634.2 V665.6 H1065 Z"/>
<rect x="559.5" y="536" width="4" height="56"/><rect x="1035.4" y="618" width="4" height="47"/>
</g>
</g>
<!--PL1-->
<!-- RIGHT TABLE -->
<g id="righttable">
<rect x="1288.2" y="363.4" width="291.6" height="26.8" fill="#1096da"/>
<g fill="#d4effd" stroke="#d4effd" stroke-width="0.3" font-size="19.6">
<text x="1302" y="383.2" textLength="16.6" lengthAdjust="spacingAndGlyphs">№</text>
<text x="1396.2" y="383.2" textLength="44.6" lengthAdjust="spacingAndGlyphs">Назва</text>
<text x="1518.6" y="383.2" textLength="50" lengthAdjust="spacingAndGlyphs">Площа</text>
</g>
<g fill="#1a1a1a" stroke="#1a1a1a" stroke-width="0.35" font-size="17.9">
<text x="1294.8" y="409.9" textLength="29.2" lengthAdjust="spacingAndGlyphs">26.1</text>
<text x="1336.6" y="409.9" textLength="121.2" lengthAdjust="spacingAndGlyphs">Засклена лоджія</text>
<text x="1528.2" y="409.9" textLength="29.2" lengthAdjust="spacingAndGlyphs">4,13</text>
<text x="1294.8" y="436.7" textLength="29.6" lengthAdjust="spacingAndGlyphs">26.2</text>
<text x="1336.6" y="436.7" textLength="102.8" lengthAdjust="spacingAndGlyphs">Кухня-їдальня</text>
<text x="1525.4" y="436.7" textLength="37" lengthAdjust="spacingAndGlyphs">15,89</text>
<text x="1294.8" y="463.5" textLength="29.6" lengthAdjust="spacingAndGlyphs">26.3</text>
<text x="1336.6" y="463.5" textLength="62" lengthAdjust="spacingAndGlyphs">Спальня</text>
<text x="1525.4" y="463.5" textLength="37" lengthAdjust="spacingAndGlyphs">15,37</text>
<text x="1294.8" y="490.7" textLength="29.6" lengthAdjust="spacingAndGlyphs">26.4</text>
<text x="1336.6" y="490.7" textLength="61.4" lengthAdjust="spacingAndGlyphs">Коридор</text>
<text x="1528.4" y="490.7" textLength="29.4" lengthAdjust="spacingAndGlyphs">3,62</text>
<text x="1294.8" y="517.5" textLength="29.6" lengthAdjust="spacingAndGlyphs">26.5</text>
<text x="1336.6" y="517.5" textLength="69.6" lengthAdjust="spacingAndGlyphs">Санвузол</text>
<text x="1528.2" y="517.5" textLength="29.6" lengthAdjust="spacingAndGlyphs">4,20</text>
</g>
</g>

<!-- LEGEND + NOTES -->
<g id="legend">
<path d="M1341.4 967.8 L1383.6 991.6 H1299.8 Z" fill="#0a0a0a"/>
<text x="1390.6" y="983" font-size="22" fill="#1a1a1a" stroke="#1a1a1a" stroke-width="0.3">-</text>
<text x="1408.8" y="983" font-size="22" fill="#1a1a1a" stroke="#1a1a1a" stroke-width="0.3" textLength="150" lengthAdjust="spacingAndGlyphs">вхід в квартиру</text>
<text x="1141" y="1039.4" font-size="20" fill="#1a1a1a" stroke="#1a1a1a" stroke-width="0.3" textLength="70.6" lengthAdjust="spacingAndGlyphs">Примітки:</text>
<g stroke="#222" stroke-width="1.2" stroke-dasharray="11.4 6.9" fill="none">
<path d="M1215.6 1038.6 H1588"/>
<path d="M1141.6 1063.4 H1588"/>
<path d="M1141.6 1087.4 H1588"/>
<path d="M1141.6 1112.3 H1588"/>
<path d="M1141.6 1136.3 H1588"/>
</g>
</g>

<!-- SCALE BAR -->
<g id="scalebar">
<rect x="600.9" y="1131.6" width="407.2" height="5.4" fill="#0a0a0a"/>
<rect x="683.4" y="1132.4" width="80.2" height="3.9" fill="#fefefe"/>
<rect x="845.4" y="1132.4" width="80.8" height="3.9" fill="#fefefe"/>
<g fill="#1a1a1a" stroke="#1a1a1a" stroke-width="0.25" font-size="16.6">
<text x="596.8" y="1128.4" textLength="9.4" lengthAdjust="spacingAndGlyphs">0</text>
<text x="754.4" y="1128.4" textLength="21.2" lengthAdjust="spacingAndGlyphs">2м</text>
<text x="997.8" y="1128.4" textLength="21.4" lengthAdjust="spacingAndGlyphs">5м</text>
</g>
</g>

<!-- LOGO: Новий Форт -->
<g id="logo2">
<path d="M119.9 1037.8 L135.1 1032.8 L135.1 1096.1 L119.9 1092.2 Z" fill="#5a3a9e"/>
<path d="M135.1 1032.8 L144.9 1036.2 L144.9 1045 L153.4 1041.2 L164.3 1045 L164.3 1053.6 L172.8 1050 L184.6 1053.4 L184.6 1083 L135.1 1096.1 Z" fill="#1e9ddd"/>
<path d="M144.9 1045 L153.4 1041.2 L155.6 1046 L149.5 1048.6 Z" fill="#4a50b4"/>
<path d="M164.3 1053.6 L172.8 1050 L175 1054.6 L168.8 1057.2 Z" fill="#4a50b4"/>
<text x="38.8" y="1134" class="b" font-size="33" fill="#4f3b97" stroke="#4f3b97" stroke-width="0.5" textLength="225.2" lengthAdjust="spacingAndGlyphs">НОВИЙ ФОРТ</text>
<text x="102.2" y="1151.4" class="b" font-size="11.2" fill="#4a3b7c" textLength="100.4" lengthAdjust="spacingAndGlyphs">ЖИТЛОВИЙ КОМПЛЕКС</text>
</g>

</g>
</svg>
</body>
</html>
